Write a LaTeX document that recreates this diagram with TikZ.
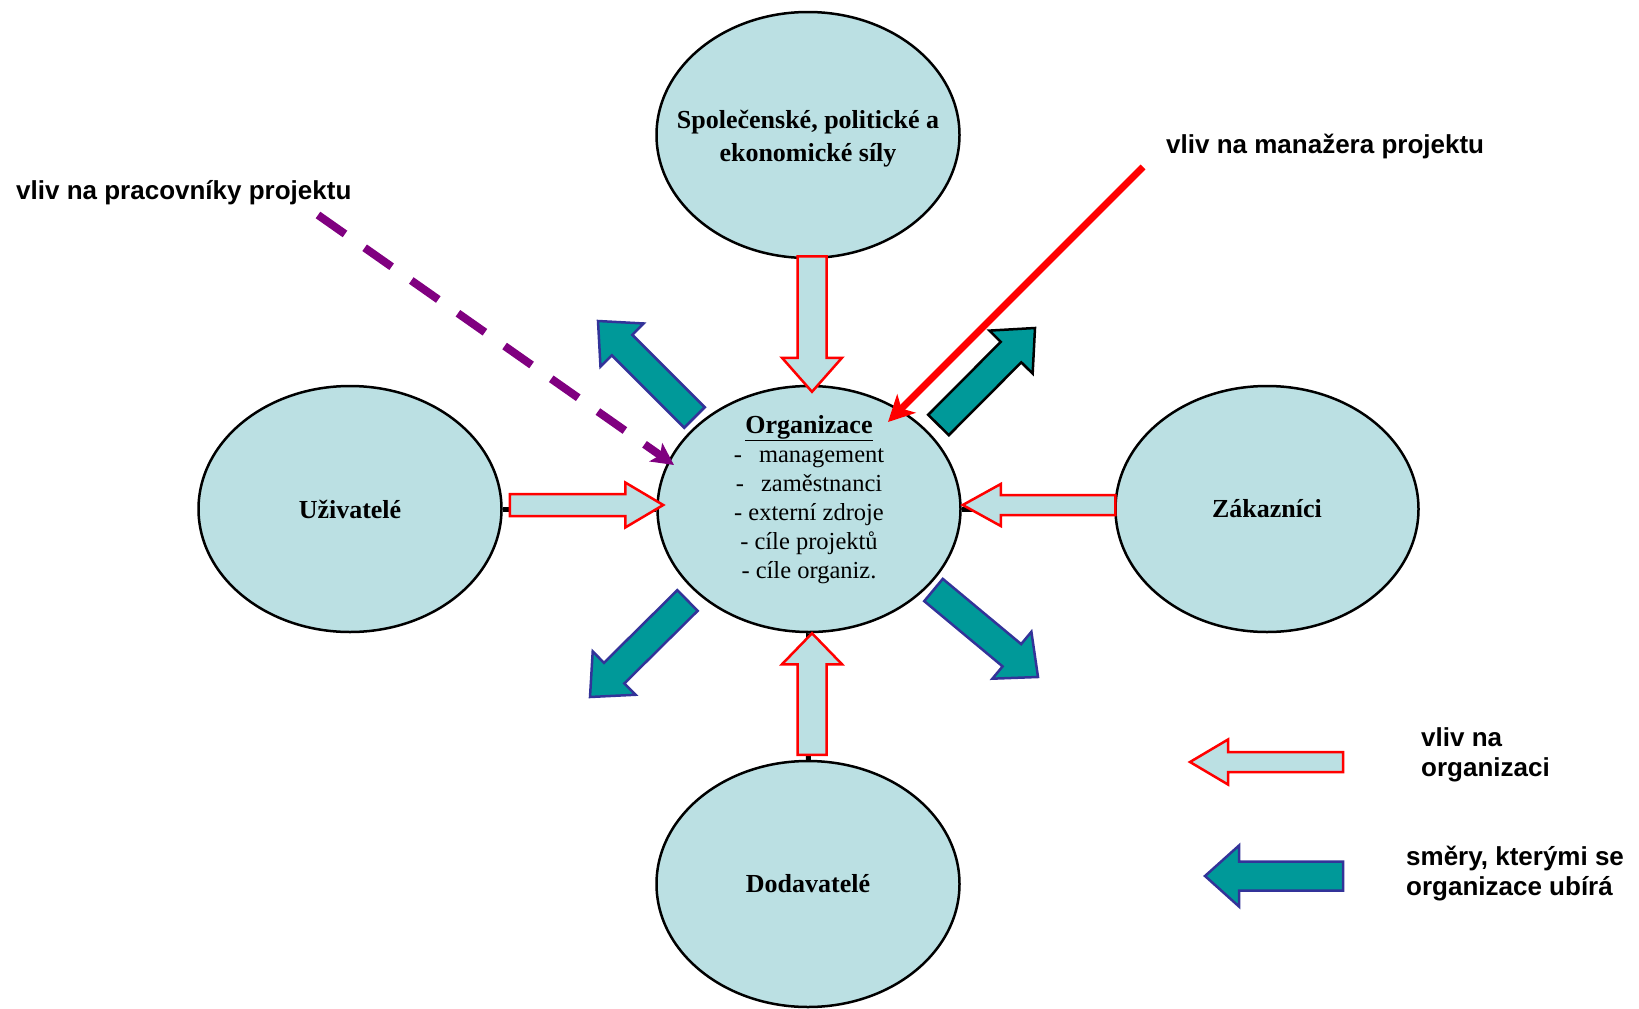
\documentclass[tikz,border=0pt]{standalone}
\usepackage{fontspec}
\setmainfont{Liberation Serif}
\newfontfamily\arialfont{Liberation Sans}
\usetikzlibrary{calc}
\usetikzlibrary{shapes.geometric}
\usetikzlibrary{arrows.meta}

\definecolor{elipsa}{RGB}{187,224,227}
\definecolor{tyrkys}{RGB}{0,153,153}
\definecolor{modra}{RGB}{51,51,153}
\definecolor{fialova}{RGB}{128,0,128}

\tikzset{
  kruh/.style={ellipse, draw=black, line width=2.5pt, fill=elipsa, minimum width=303pt,
    minimum height=246pt, inner sep=0pt, align=center, font=\fontsize{26}{33}\selectfont\bfseries},
  vliv/.style={draw=red, fill=elipsa, line width=2.5pt},
  smer/.style={draw=modra, fill=tyrkys, line width=2.5pt},
  popis/.style={font=\arialfont\bfseries\fontsize{26}{30}\selectfont, inner sep=0pt},
}

% blokova sipka: styl, odkud, kam, pul tela, pul hlavy, delka hlavy
\newcommand{\sipka}[6]{%
  \coordinate (hh) at ($(#3)!#6!(#2)$);
  \draw[#1] ($(#2)!#4!90:(#3)$) -- ($(hh)!#4!90:(#3)$) -- ($(hh)!#5!90:(#3)$) -- (#3)
    -- ($(hh)!#5!-90:(#3)$) -- ($(hh)!#4!-90:(#3)$) -- ($(#2)!#4!-90:(#3)$) -- cycle;
}

\begin{document}
\begin{tikzpicture}[x=1pt,y=-1pt]
	\useasboundingbox (0,0) rectangle (1639,1009);

	% elipsy
	\node[kruh] (spol) at (808,135) {};
	\node[kruh] (org) at (809,509) {};
	\node[kruh] (uziv) at (350,509) {Uživatelé};
	\node[kruh] (zak) at (1267,509) {Zákazníci};
	\node[kruh] (dod) at (808,884) {Dodavatelé};

	% spojnice pod sipkami
	\draw[line width=5pt] (uziv) -- (org);
	\draw[line width=5pt] (org) -- (zak);
	\draw[line width=5pt] (spol) -- (org);
	\draw[line width=5pt] (org) -- (dod);

	\node[align=center, inner sep=0pt, font=\fontsize{26}{33}\selectfont\bfseries] (spoltext) at ($(spol)+(0,4)$)
		{Společenské, politické a\\ekonomické síly};
	\node[anchor=north, inner sep=0pt, align=center, font=\fontsize{24.5}{29}\selectfont] (orgtext) at (809,415)
		{{\fontsize{26}{29}\selectfont\bfseries\underline{Organizace}}\\
		-\hspace{11pt} management\\
		-\hspace{11pt} zaměstnanci\\
		- externí zdroje\\
		- cíle projektů\\
		- cíle organiz.};

	% vlivy na organizaci
	\coordinate (shora) at ($(spol.south)+(4,-3)$);
	\coordinate (shoratip) at ($(org.north)+(3,7)$);
	\coordinate (zleva) at ($(uziv.east)+(7,-4)$);
	\coordinate (zlevatip) at ($(org.west)+(7,-4)$);
	\coordinate (zprava) at ($(zak.west)+(1,-4)$);
	\coordinate (zpravatip) at ($(org.east)+(1,-4)$);
	\coordinate (zdola) at ($(dod.north)+(4,-5)$);
	\coordinate (zdolatip) at ($(org.south)+(3,0)$);
	\sipka{vliv}{shora}{shoratip}{14.5pt}{30pt}{34pt}
	\sipka{vliv}{zleva}{zlevatip}{11pt}{22.5pt}{38pt}
	\sipka{vliv}{zprava}{zpravatip}{10pt}{21pt}{38pt}
	\sipka{vliv}{zdola}{zdolatip}{14.5pt}{30pt}{31pt}

	% smery organizace
	\coordinate (sz) at (694.5,417.5);
	\coordinate (sztip) at (598,321);
	\coordinate (sv) at (938.5,425);
	\coordinate (svtip) at (1035,328);
	\coordinate (jz) at (687.5,600.5);
	\coordinate (jztip) at (590,697);
	\coordinate (jv) at (933.5,590);
	\coordinate (jvtip) at (1038,677);
	\sipka{smer}{sz}{sztip}{14.5pt}{30.5pt}{34pt}
	\sipka{smer,draw=black}{sv}{svtip}{14.5pt}{30.5pt}{34pt}
	\sipka{smer}{jz}{jztip}{14.5pt}{30.5pt}{34pt}
	\sipka{smer}{jv}{jvtip}{14.5pt}{30.5pt}{34pt}

	% vliv na manazera a pracovniky
	\coordinate (manazer) at (1143,167);
	\coordinate (manazertip) at (888,422);
	\draw[red, line width=7pt, -{Stealth[length=26pt,width=26pt,inset=7pt]}] (manazer) -- (manazertip);
	\coordinate (prac) at (318,215);
	\coordinate (practip) at (674,465);
	\draw[fialova, line width=8pt, dash pattern=on 33pt off 24pt,
		-{Stealth[length=22pt,width=22pt,inset=5pt]}] (prac) -- (practip);
	\node[popis, anchor=base west] (lprac) at (16,199) {vliv na pracovníky projektu};
	\node[popis, anchor=base west] (lman) at (1166,153) {vliv na manažera projektu};

	% legenda
	\coordinate (lv) at (1343,762);
	\coordinate (lvtip) at (1190,762);
	\coordinate (ls) at (1343,876);
	\coordinate (lstip) at (1205,876);
	\sipka{vliv}{lv}{lvtip}{10pt}{22.5pt}{38pt}
	\sipka{smer}{ls}{lstip}{14.5pt}{30.5pt}{34pt}
	\node[popis, align=left, anchor=north west] (lvliv) at (1421,727) {vliv na\\organizaci};
	\node[popis, align=left, anchor=north west] (lsmer) at (1406,846) {směry, kterými se\\organizace ubírá};
\end{tikzpicture}
\end{document}
